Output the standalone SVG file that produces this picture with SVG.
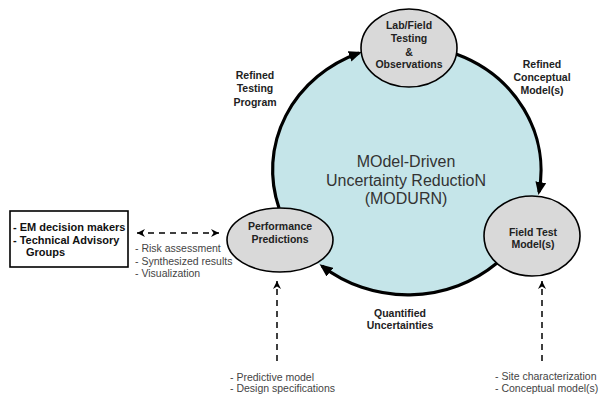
<svg xmlns="http://www.w3.org/2000/svg" width="602" height="398" viewBox="0 0 602 398">
<defs>
<style>
.node{fill:#d9d9d9;stroke:#000;stroke-width:1.6}
.nt{font-family:"Liberation Sans",Arial,sans-serif;font-size:10.5px;font-weight:bold;fill:#222;text-anchor:middle}
.lbl{font-family:"Liberation Sans",Arial,sans-serif;font-size:10.5px;font-weight:bold;fill:#222;text-anchor:middle}
.note{font-family:"Liberation Sans",Arial,sans-serif;font-size:10.5px;fill:#444}
.arc{fill:none;stroke:#000;stroke-width:3.2}
.dash{fill:none;stroke:#000;stroke-width:1.5;stroke-dasharray:6,5}
</style>
<marker id="ah" markerUnits="userSpaceOnUse" markerWidth="14" markerHeight="12" refX="10" refY="5.5" orient="auto">
<path d="M0,0 L13,5.5 L0,11 z" fill="#000"/>
</marker>
<marker id="dh" markerUnits="userSpaceOnUse" markerWidth="10" markerHeight="10" refX="8" refY="4" orient="auto-start-reverse">
<path d="M0,0 L8,4 L0,8 L2.5,4 z" fill="#000"/>
</marker>
</defs>
<rect width="602" height="398" fill="#fff"/>
<g id="cycle">
<ellipse cx="407" cy="170" rx="134" ry="125" fill="#c5e5e9"/>
<text x="406" y="167" font-family="'Liberation Sans',Arial,sans-serif" font-size="16" fill="#333" text-anchor="middle">MOdel-Driven</text>
<text x="406" y="186" font-family="'Liberation Sans',Arial,sans-serif" font-size="16" fill="#333" text-anchor="middle">Uncertainty ReductioN</text>
<text x="406" y="204" font-family="'Liberation Sans',Arial,sans-serif" font-size="16" fill="#333" text-anchor="middle">(MODURN)</text>
</g>
<g id="connectors">
<path class="arc" d="M279,208 A134,125 0 0 1 359,53" marker-end="url(#ah)"/>
<path class="arc" d="M456,54 A134,125 0 0 1 539,192" marker-end="url(#ah)"/>
<path class="arc" d="M497,263 A134,125 0 0 1 322,266" marker-end="url(#ah)"/>
<path class="dash" d="M137,233 H219" marker-start="url(#dh)" marker-end="url(#dh)"/>
<path class="dash" d="M277,361 V281" marker-end="url(#dh)"/>
<path class="dash" d="M542,361 V281" marker-end="url(#dh)"/>
<text class="lbl"><tspan x="255" y="79">Refined</tspan><tspan x="255" y="92">Testing</tspan><tspan x="255" y="106">Program</tspan></text>
<text class="lbl"><tspan x="542" y="68">Refined</tspan><tspan x="542" y="81">Conceptual</tspan><tspan x="542" y="94">Model(s)</tspan></text>
<text class="lbl"><tspan x="400" y="317">Quantified</tspan><tspan x="400" y="329">Uncertainties</tspan></text>
<text class="note"><tspan x="135" y="252">- Risk assessment</tspan><tspan x="135" y="265">- Synthesized results</tspan><tspan x="135" y="277">- Visualization</tspan></text>
<text class="note"><tspan x="230" y="381">- Predictive model</tspan><tspan x="230" y="392">- Design specifications</tspan></text>
<text class="note"><tspan x="495" y="380">- Site characterization</tspan><tspan x="495" y="392">- Conceptual model(s)</tspan></text>
</g>
<g id="lab">
<ellipse class="node" cx="409" cy="48" rx="48" ry="39"/>
<text class="nt"><tspan x="409" y="29">Lab/Field</tspan><tspan x="409" y="42">Testing</tspan><tspan x="409" y="56">&amp;</tspan><tspan x="409" y="68">Observations</tspan></text>
</g>
<g id="field">
<ellipse class="node" cx="532" cy="236" rx="48" ry="40"/>
<text class="nt"><tspan x="533" y="236">Field Test</tspan><tspan x="533" y="248">Model(s)</tspan></text>
</g>
<g id="performance">
<ellipse class="node" cx="280" cy="240" rx="53" ry="32"/>
<text class="nt"><tspan x="280" y="230">Performance</tspan><tspan x="280" y="243">Predictions</tspan></text>
</g>
<g id="stakeholders">
<rect x="10" y="211" width="118" height="56" fill="#fff" stroke="#000" stroke-width="1.6"/>
<text font-family="'Liberation Sans',Arial,sans-serif" font-size="11" font-weight="bold" fill="#111"><tspan x="13" y="231">- EM decision makers</tspan><tspan x="13" y="244">- Technical Advisory</tspan><tspan x="26" y="256">Groups</tspan></text>
</g>
</svg>
